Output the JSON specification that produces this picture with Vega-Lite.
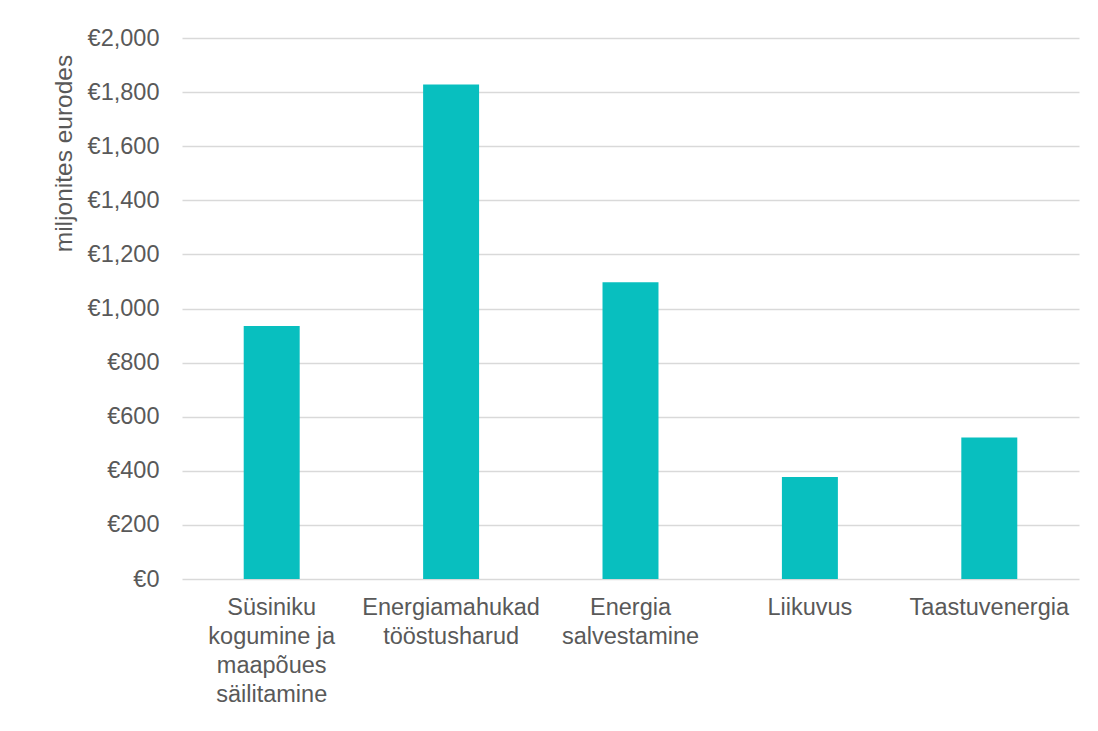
{
  "$schema": "https://vega.github.io/schema/vega-lite/v6.json",
  "autosize": {"type": "none"},
  "padding": {"left": 182, "top": 38, "right": 19, "bottom": 152},
  "width": 897,
  "height": 541,
  "background": "white",
  "config": {
    "view": {"stroke": null},
    "font": "Liberation Sans"
  },
  "data": {
    "values": [
      {"kategooria": "Süsiniku\nkogumine ja\nmaapõues\nsäilitamine", "summa": 935},
      {"kategooria": "Energiamahukad\ntööstusharud", "summa": 1828},
      {"kategooria": "Energia\nsalvestamine", "summa": 1097},
      {"kategooria": "Liikuvus", "summa": 377},
      {"kategooria": "Taastuvenergia", "summa": 523}
    ]
  },
  "mark": {"type": "bar", "color": "#08BFBF"},
  "encoding": {
    "x": {
      "field": "kategooria",
      "type": "nominal",
      "sort": null,
      "scale": {"paddingInner": 0.688, "paddingOuter": 0.344},
      "axis": {
        "title": null,
        "labelAngle": 0,
        "labelExpr": "split(datum.label, '\\n')",
        "labelFont": "Liberation Sans",
        "labelFontSize": 23.5,
        "labelLineHeight": 29,
        "labelColor": "#595959",
        "labelPadding": 16,
        "labelBaseline": "top",
        "labelLimit": 0,
        "ticks": false,
        "domain": false
      }
    },
    "y": {
      "field": "summa",
      "type": "quantitative",
      "scale": {"domain": [0, 2000]},
      "axis": {
        "title": "miljonites eurodes",
        "titleFont": "Liberation Sans",
        "titleFontSize": 24.5,
        "titleFontWeight": "normal",
        "titleColor": "#595959",
        "titleAngle": -90,
        "titleX": -106,
        "titleY": 115,
        "titleAlign": "center",
        "titleBaseline": "bottom",
        "values": [0, 200, 400, 600, 800, 1000, 1200, 1400, 1600, 1800, 2000],
        "labelExpr": "'€' + format(datum.value, ',')",
        "labelFont": "Liberation Sans",
        "labelFontSize": 23.5,
        "labelColor": "#595959",
        "labelPadding": 23,
        "ticks": false,
        "domain": false,
        "grid": true,
        "gridColor": "#D9D9D9",
        "gridWidth": 1.5
      }
    }
  }
}
